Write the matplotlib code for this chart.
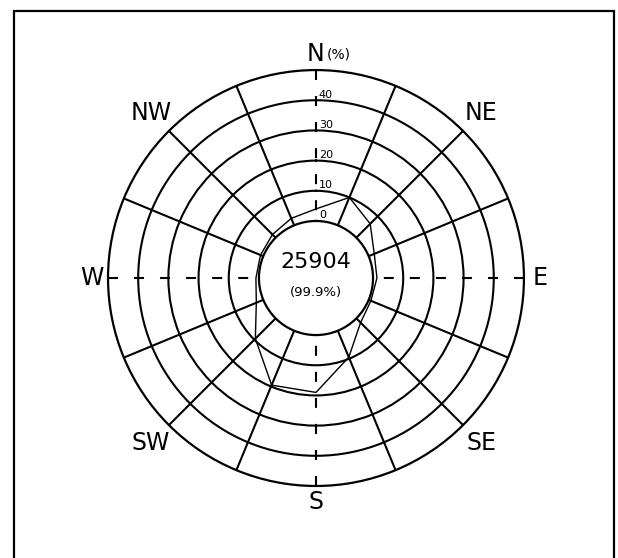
import numpy as np
import matplotlib
matplotlib.use('Agg')
import matplotlib.pyplot as plt
from matplotlib.patches import Rectangle

# wind rose data (% of observations per direction, clockwise from N)
directions = ['N', 'NNE', 'NE', 'ENE', 'E', 'ESE', 'SE', 'SSE',
              'S', 'SSW', 'SW', 'WSW', 'W', 'WNW', 'NW', 'NNW']
freq = [4.0, 10.0, 6.5, 2.0, 1.3, 0.8, 2.0, 9.5,
        19.0, 19.5, 9.5, 2.5, 1.0, 1.0, 1.5, 2.5]
ring_values = [0, 10, 20, 30, 40]
r_max = 50
n_obs = '25904'
valid_pct = '(99.9%)'
compass_labels = ['N', 'NE', 'E', 'SE', 'S', 'SW', 'W', 'NW']

fig = plt.figure(figsize=[6.18, 5.58], dpi=100)
ax = fig.add_axes([0.1748, 0.129, 0.673, 0.7455], projection='polar')
ax.set_theta_zero_location('N')
ax.set_theta_direction(-1)
ax.set_ylim(0, r_max)
ax.set_rorigin(-18.9)

# spokes on the 12 non-cardinal directions, rings every 10%
step = 360.0 / len(directions)
spoke_angles = [i * step for i in range(len(directions)) if i % 4 != 0]
ax.set_thetagrids(spoke_angles, labels=[])
ax.set_rgrids(ring_values[1:], labels=[])
ax.grid(True, color='black', lw=1.5, ls='-')
ax.tick_params(length=0)
for name in ['polar', 'inner']:
    ax.spines[name].set_linewidth(1.6)
    ax.spines[name].set_color('black')

# dashed cardinal axes
for i in range(0, len(directions), 4):
    t = np.deg2rad(i * step)
    ax.plot([t, t], [r_max, 0], color='black', lw=1.5, dashes=(4.8, 7.7))

# frequency polygon
theta = np.deg2rad(np.arange(len(directions)) * step)
ax.plot(np.append(theta, theta[0]), freq + freq[:1], color='black', lw=1.0)

# ring labels along the north axis
for v in ring_values:
    ax.annotate(str(v), xy=(0, v), xytext=(2, 0.5), textcoords='offset points',
                fontsize=8, ha='left', va='bottom')

# compass labels
for k, lab in enumerate(compass_labels):
    ang = k * 45
    rr = 55.3 if k % 2 == 0 else 58.5
    if lab == 'N':
        ax.text(0, rr, 'N', fontsize=17, ha='center', va='center', clip_on=False)
        ax.annotate('(%)', xy=(0, rr), xytext=(7.5, 0), textcoords='offset points',
                    fontsize=10, ha='left', va='center', annotation_clip=False)
    else:
        ax.text(np.deg2rad(ang), rr, lab, fontsize=17, ha='center', va='center',
                clip_on=False)

# centre annotation
ax.text(0.5, 0.538, n_obs, transform=ax.transAxes, fontsize=16,
        ha='center', va='center')
ax.text(0.5, 0.464, valid_pct, transform=ax.transAxes, fontsize=9.5,
        ha='center', va='center')

# page frame (open at the bottom)
fig.add_artist(Rectangle((14 / 618, -0.1), 600 / 618, 1.08, transform=fig.transFigure,
                         fill=False, lw=1.6, edgecolor='black'))

fig.savefig('out.png', dpi=100)
